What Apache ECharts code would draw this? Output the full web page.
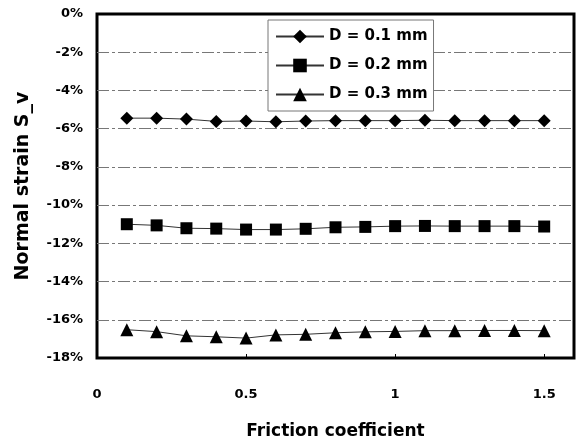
<!DOCTYPE html>
<html><head><meta charset="utf-8">
<script src="https://cdn.jsdelivr.net/npm/echarts@6/dist/echarts.min.js"></script>
<style>html,body{margin:0;padding:0;background:#fff}#c{width:578px;height:445px}</style>
</head><body><div id="c"></div>
<script>
const friction = [0.1,0.2,0.3,0.4,0.5,0.6,0.7,0.8,0.9,1.0,1.1,1.2,1.3,1.4,1.5];
const d01 = [-5.45,-5.45,-5.50,-5.62,-5.60,-5.64,-5.60,-5.58,-5.58,-5.58,-5.56,-5.58,-5.58,-5.58,-5.58];
const d02 = [-11.00,-11.06,-11.21,-11.23,-11.28,-11.28,-11.24,-11.16,-11.14,-11.10,-11.09,-11.10,-11.10,-11.10,-11.12];
const d03 = [-16.52,-16.62,-16.84,-16.89,-16.96,-16.79,-16.76,-16.68,-16.63,-16.61,-16.57,-16.57,-16.56,-16.56,-16.57];
const names = ['D = 0.1 mm','D = 0.2 mm','D = 0.3 mm'];

const chart = echarts.init(document.getElementById('c'));
const F = '"DejaVu Sans", "Liberation Sans", sans-serif';
function mk(name, arr, sym, size){
  return {name, type:'line', data: friction.map((x,i)=>[x,arr[i]]), symbol:sym, symbolSize:size,
    itemStyle:{color:'#000'}, lineStyle:{color:'#333', width:1}, animation:false};
}
chart.setOption({
  animation:false,
  grid:{left:97,right:4,top:14,bottom:75,show:true,borderColor:'#000',borderWidth:3,backgroundColor:'transparent'},
  legend:{orient:'vertical',left:268,top:20,backgroundColor:'#fff',borderColor:'#777',borderWidth:1,
    padding:[7,6,7,7],itemGap:10,itemWidth:48,itemHeight:17,
    textStyle:{fontFamily:F,fontSize:15,fontWeight:'bold',color:'#000',lineHeight:19},data:names},
  xAxis:{type:'value',min:0,max:1.6,interval:0.5,name:'Friction coefficient',nameLocation:'middle',nameGap:65,
    nameTextStyle:{fontFamily:F,fontSize:17,fontWeight:'bold',color:'#000'},
    axisLine:{show:false,onZero:false},axisTick:{show:true,inside:true,length:4,lineStyle:{color:'#000'}},
    splitLine:{show:false},
    axisLabel:{fontFamily:F,fontSize:13,fontWeight:'bold',color:'#000',margin:30,showMaxLabel:false,
      formatter:v=>String(v)}},
  yAxis:{type:'value',min:-18,max:0,interval:2,name:'Normal strain S_v',nameLocation:'middle',nameGap:64,
    nameTextStyle:{fontFamily:F,fontSize:19,fontWeight:'bold',color:'#000'},
    axisLine:{show:false},axisTick:{show:false},
    splitLine:{show:true,showMinLine:false,showMaxLine:false,lineStyle:{color:'#777',width:1,type:[12,3,3,3]}},
    axisLabel:{fontFamily:F,fontSize:13,fontWeight:'bold',color:'#000',margin:14,formatter:'{value}%'}},
  series:[mk(names[0],d01,'diamond',13),mk(names[1],d02,'rect',12),mk(names[2],d03,'triangle',13)]
});
</script></body></html>
